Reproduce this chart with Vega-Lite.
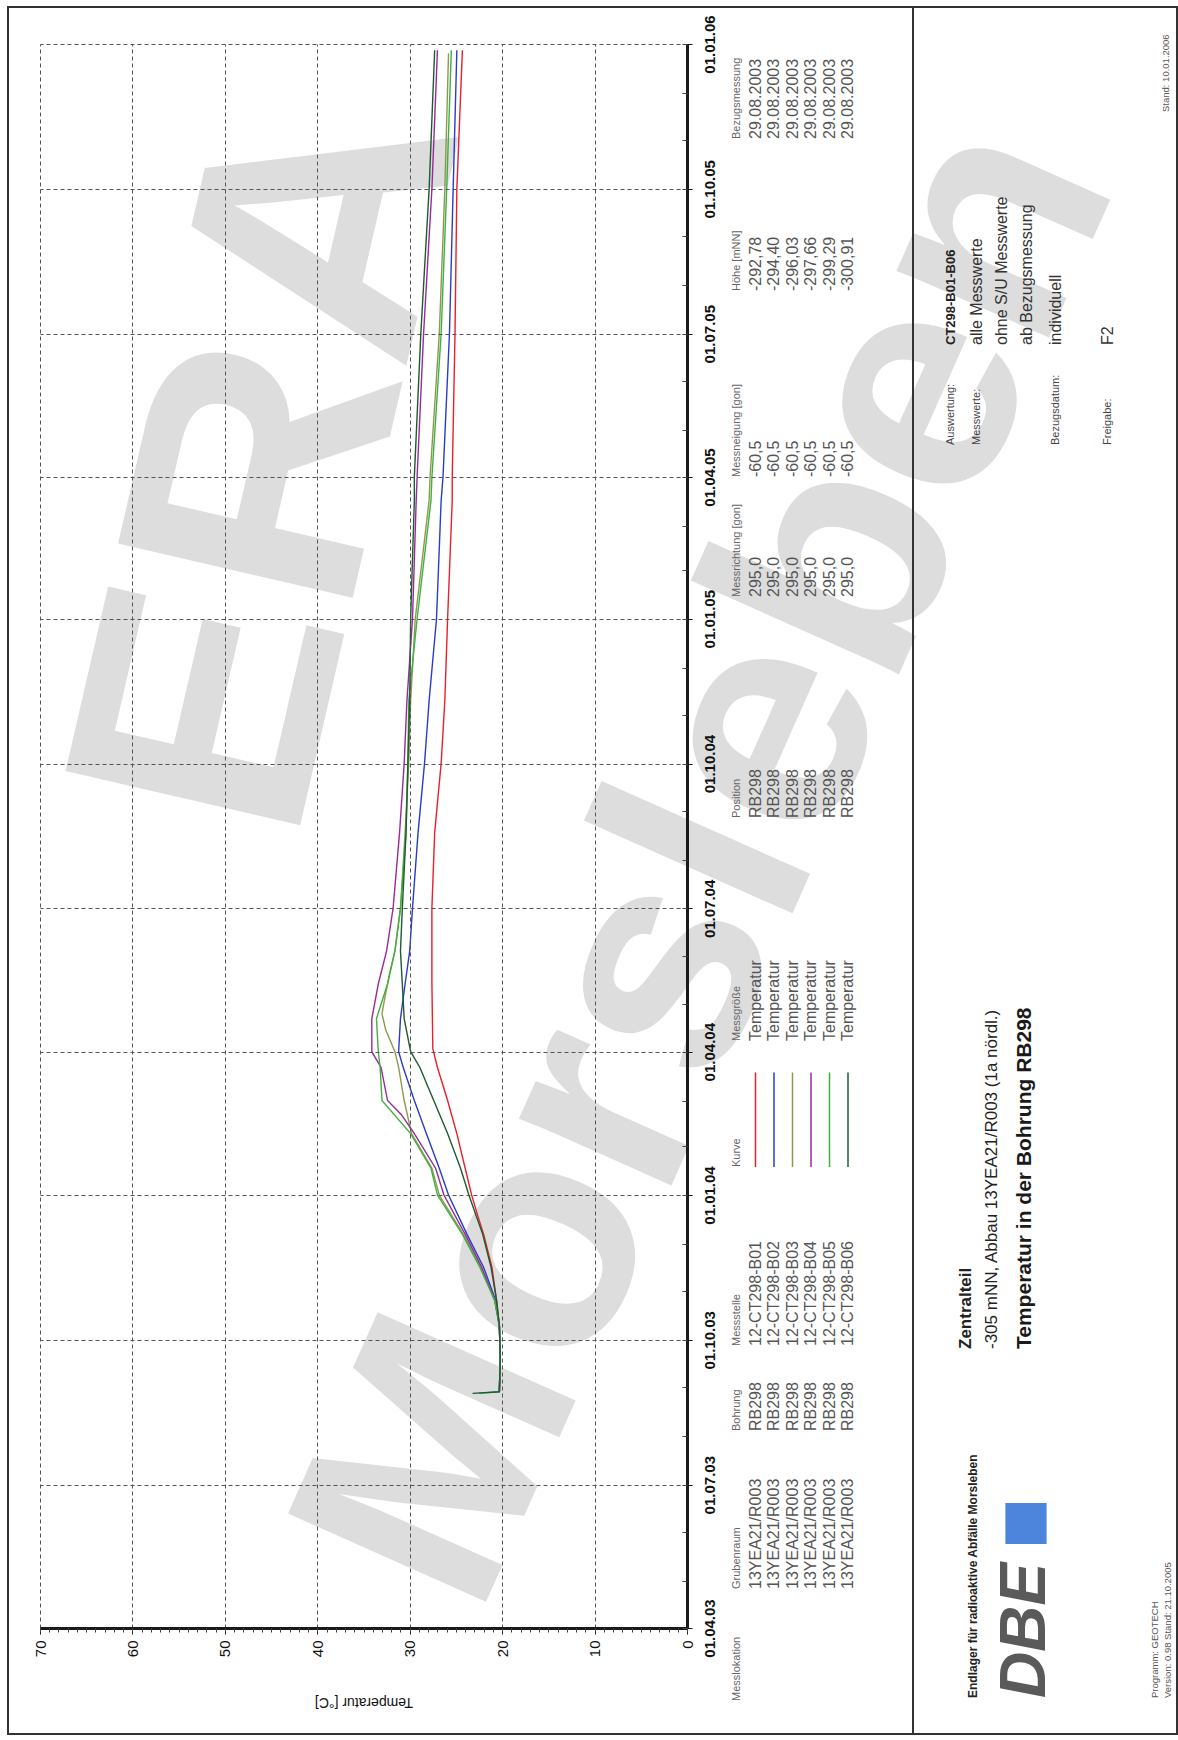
{
  "$schema": "https://vega.github.io/schema/vega-lite/v6.json",
  "background": "white",
  "padding": {"left": 7, "top": 6, "right": 2, "bottom": 7},
  "bounds": "flush",
  "spacing": 0,
  "config": {"font": "Liberation Sans", "view": {"stroke": "#333333", "strokeWidth": 2}},
  "datasets": {
    "curves": [
      {"sensor": "B01", "d": "2003-08-29", "t": 20.3}, {"sensor": "B01", "d": "2003-09-20", "t": 20.2}, {"sensor": "B01", "d": "2003-10-10", "t": 20.3}, {"sensor": "B01", "d": "2003-10-26", "t": 20.6}, {"sensor": "B01", "d": "2003-11-16", "t": 21.1}, {"sensor": "B01", "d": "2003-12-07", "t": 22.0}, {"sensor": "B01", "d": "2003-12-20", "t": 22.7}, {"sensor": "B01", "d": "2004-01-01", "t": 23.3}, {"sensor": "B01", "d": "2004-01-18", "t": 24.0}, {"sensor": "B01", "d": "2004-02-09", "t": 24.9}, {"sensor": "B01", "d": "2004-03-01", "t": 25.9}, {"sensor": "B01", "d": "2004-03-22", "t": 27.0}, {"sensor": "B01", "d": "2004-04-03", "t": 27.5}, {"sensor": "B01", "d": "2004-05-15", "t": 27.6}, {"sensor": "B01", "d": "2004-07-01", "t": 27.6}, {"sensor": "B01", "d": "2004-08-18", "t": 27.3}, {"sensor": "B01", "d": "2004-10-01", "t": 26.6}, {"sensor": "B01", "d": "2004-11-10", "t": 26.2}, {"sensor": "B01", "d": "2005-01-01", "t": 25.9}, {"sensor": "B01", "d": "2005-03-17", "t": 25.4}, {"sensor": "B01", "d": "2005-04-01", "t": 25.4}, {"sensor": "B01", "d": "2005-07-01", "t": 25.1}, {"sensor": "B01", "d": "2005-10-01", "t": 24.9}, {"sensor": "B01", "d": "2005-12-28", "t": 24.3},
      {"sensor": "B02", "d": "2003-08-29", "t": 20.3}, {"sensor": "B02", "d": "2003-09-20", "t": 20.2}, {"sensor": "B02", "d": "2003-10-10", "t": 20.3}, {"sensor": "B02", "d": "2003-10-26", "t": 20.7}, {"sensor": "B02", "d": "2003-11-16", "t": 22.0}, {"sensor": "B02", "d": "2003-12-07", "t": 23.8}, {"sensor": "B02", "d": "2004-01-01", "t": 25.8}, {"sensor": "B02", "d": "2004-01-18", "t": 26.8}, {"sensor": "B02", "d": "2004-02-09", "t": 28.2}, {"sensor": "B02", "d": "2004-03-01", "t": 29.5}, {"sensor": "B02", "d": "2004-03-22", "t": 30.7}, {"sensor": "B02", "d": "2004-04-01", "t": 31.2}, {"sensor": "B02", "d": "2004-04-22", "t": 31.0}, {"sensor": "B02", "d": "2004-05-14", "t": 30.5}, {"sensor": "B02", "d": "2004-06-04", "t": 30.0}, {"sensor": "B02", "d": "2004-07-01", "t": 29.7}, {"sensor": "B02", "d": "2004-08-18", "t": 29.1}, {"sensor": "B02", "d": "2004-10-01", "t": 28.4}, {"sensor": "B02", "d": "2004-11-10", "t": 27.9}, {"sensor": "B02", "d": "2005-01-01", "t": 27.1}, {"sensor": "B02", "d": "2005-03-17", "t": 26.6}, {"sensor": "B02", "d": "2005-04-01", "t": 26.4}, {"sensor": "B02", "d": "2005-07-01", "t": 25.7}, {"sensor": "B02", "d": "2005-10-01", "t": 25.3}, {"sensor": "B02", "d": "2005-12-28", "t": 24.9},
      {"sensor": "B03", "d": "2003-08-29", "t": 20.3}, {"sensor": "B03", "d": "2003-09-20", "t": 20.2}, {"sensor": "B03", "d": "2003-10-10", "t": 20.3}, {"sensor": "B03", "d": "2003-10-26", "t": 20.8}, {"sensor": "B03", "d": "2003-11-16", "t": 22.3}, {"sensor": "B03", "d": "2003-12-07", "t": 24.2}, {"sensor": "B03", "d": "2004-01-01", "t": 26.8}, {"sensor": "B03", "d": "2004-01-18", "t": 27.6}, {"sensor": "B03", "d": "2004-02-09", "t": 29.8}, {"sensor": "B03", "d": "2004-03-01", "t": 30.6}, {"sensor": "B03", "d": "2004-03-22", "t": 31.2}, {"sensor": "B03", "d": "2004-04-01", "t": 31.6}, {"sensor": "B03", "d": "2004-04-15", "t": 32.6}, {"sensor": "B03", "d": "2004-04-25", "t": 33.0}, {"sensor": "B03", "d": "2004-05-05", "t": 32.7}, {"sensor": "B03", "d": "2004-05-20", "t": 32.2}, {"sensor": "B03", "d": "2004-06-04", "t": 31.6}, {"sensor": "B03", "d": "2004-07-01", "t": 31.0}, {"sensor": "B03", "d": "2004-08-18", "t": 30.5}, {"sensor": "B03", "d": "2004-10-01", "t": 30.1}, {"sensor": "B03", "d": "2004-11-10", "t": 29.9}, {"sensor": "B03", "d": "2005-01-01", "t": 29.4}, {"sensor": "B03", "d": "2005-03-17", "t": 27.9}, {"sensor": "B03", "d": "2005-04-01", "t": 27.8}, {"sensor": "B03", "d": "2005-07-01", "t": 26.8}, {"sensor": "B03", "d": "2005-10-01", "t": 26.2}, {"sensor": "B03", "d": "2005-12-26", "t": 25.8},
      {"sensor": "B04", "d": "2003-08-29", "t": 20.3}, {"sensor": "B04", "d": "2003-09-20", "t": 20.2}, {"sensor": "B04", "d": "2003-10-10", "t": 20.3}, {"sensor": "B04", "d": "2003-10-26", "t": 20.8}, {"sensor": "B04", "d": "2003-11-16", "t": 22.2}, {"sensor": "B04", "d": "2003-12-07", "t": 24.0}, {"sensor": "B04", "d": "2004-01-01", "t": 26.3}, {"sensor": "B04", "d": "2004-01-18", "t": 27.2}, {"sensor": "B04", "d": "2004-02-09", "t": 29.5}, {"sensor": "B04", "d": "2004-02-21", "t": 30.9}, {"sensor": "B04", "d": "2004-03-01", "t": 32.4}, {"sensor": "B04", "d": "2004-03-22", "t": 33.1}, {"sensor": "B04", "d": "2004-04-01", "t": 34.1}, {"sensor": "B04", "d": "2004-04-22", "t": 34.1}, {"sensor": "B04", "d": "2004-05-14", "t": 33.4}, {"sensor": "B04", "d": "2004-06-04", "t": 32.5}, {"sensor": "B04", "d": "2004-07-01", "t": 31.8}, {"sensor": "B04", "d": "2004-08-18", "t": 31.1}, {"sensor": "B04", "d": "2004-10-01", "t": 30.6}, {"sensor": "B04", "d": "2004-11-10", "t": 30.3}, {"sensor": "B04", "d": "2005-01-01", "t": 29.7}, {"sensor": "B04", "d": "2005-03-17", "t": 29.3}, {"sensor": "B04", "d": "2005-04-01", "t": 29.2}, {"sensor": "B04", "d": "2005-07-01", "t": 28.5}, {"sensor": "B04", "d": "2005-10-01", "t": 27.6}, {"sensor": "B04", "d": "2005-12-28", "t": 27.0},
      {"sensor": "B05", "d": "2003-08-28", "t": 22.5}, {"sensor": "B05", "d": "2003-08-29", "t": 20.3}, {"sensor": "B05", "d": "2003-09-20", "t": 20.2}, {"sensor": "B05", "d": "2003-10-10", "t": 20.3}, {"sensor": "B05", "d": "2003-10-26", "t": 20.8}, {"sensor": "B05", "d": "2003-11-16", "t": 22.4}, {"sensor": "B05", "d": "2003-12-07", "t": 24.3}, {"sensor": "B05", "d": "2004-01-01", "t": 27.0}, {"sensor": "B05", "d": "2004-01-18", "t": 27.7}, {"sensor": "B05", "d": "2004-02-09", "t": 29.9}, {"sensor": "B05", "d": "2004-03-01", "t": 33.0}, {"sensor": "B05", "d": "2004-03-22", "t": 33.2}, {"sensor": "B05", "d": "2004-04-01", "t": 33.4}, {"sensor": "B05", "d": "2004-04-22", "t": 33.6}, {"sensor": "B05", "d": "2004-05-14", "t": 32.4}, {"sensor": "B05", "d": "2004-06-04", "t": 31.6}, {"sensor": "B05", "d": "2004-07-01", "t": 31.0}, {"sensor": "B05", "d": "2004-08-18", "t": 30.4}, {"sensor": "B05", "d": "2004-10-01", "t": 30.2}, {"sensor": "B05", "d": "2004-11-10", "t": 30.1}, {"sensor": "B05", "d": "2005-01-01", "t": 29.2}, {"sensor": "B05", "d": "2005-03-17", "t": 27.7}, {"sensor": "B05", "d": "2005-04-01", "t": 27.6}, {"sensor": "B05", "d": "2005-07-01", "t": 26.6}, {"sensor": "B05", "d": "2005-10-01", "t": 26.0}, {"sensor": "B05", "d": "2005-12-28", "t": 25.5},
      {"sensor": "B06", "d": "2003-08-28", "t": 23.2}, {"sensor": "B06", "d": "2003-08-29", "t": 20.3}, {"sensor": "B06", "d": "2003-09-20", "t": 20.2}, {"sensor": "B06", "d": "2003-10-10", "t": 20.3}, {"sensor": "B06", "d": "2003-10-26", "t": 20.6}, {"sensor": "B06", "d": "2003-11-16", "t": 21.2}, {"sensor": "B06", "d": "2003-12-07", "t": 22.1}, {"sensor": "B06", "d": "2004-01-01", "t": 23.6}, {"sensor": "B06", "d": "2004-01-18", "t": 24.5}, {"sensor": "B06", "d": "2004-02-09", "t": 25.9}, {"sensor": "B06", "d": "2004-03-01", "t": 27.4}, {"sensor": "B06", "d": "2004-03-22", "t": 28.9}, {"sensor": "B06", "d": "2004-04-01", "t": 29.9}, {"sensor": "B06", "d": "2004-04-22", "t": 30.6}, {"sensor": "B06", "d": "2004-05-14", "t": 30.8}, {"sensor": "B06", "d": "2004-06-04", "t": 31.0}, {"sensor": "B06", "d": "2004-07-01", "t": 30.8}, {"sensor": "B06", "d": "2004-08-18", "t": 30.4}, {"sensor": "B06", "d": "2004-10-01", "t": 30.2}, {"sensor": "B06", "d": "2004-11-10", "t": 30.0}, {"sensor": "B06", "d": "2005-01-01", "t": 29.9}, {"sensor": "B06", "d": "2005-03-17", "t": 29.5}, {"sensor": "B06", "d": "2005-04-01", "t": 29.5}, {"sensor": "B06", "d": "2005-07-01", "t": 28.8}, {"sensor": "B06", "d": "2005-10-01", "t": 27.9}, {"sensor": "B06", "d": "2005-12-28", "t": 27.3}
    ],
    "table": [
      {"sensor": "h", "col": 1, "text": "Messlokation"}, {"sensor": "h", "col": 2, "text": "Grubenraum"}, {"sensor": "h", "col": 3, "text": "Bohrung"}, {"sensor": "h", "col": 4, "text": "Messstelle"}, {"sensor": "h", "col": 5, "text": "Kurve"}, {"sensor": "h", "col": 6, "text": "Messgröße"}, {"sensor": "h", "col": 7, "text": "Position"}, {"sensor": "h", "col": 8, "text": "Messrichtung [gon]"}, {"sensor": "h", "col": 9, "text": "Messneigung [gon]"}, {"sensor": "h", "col": 10, "text": "Höhe [mNN]"}, {"sensor": "h", "col": 11, "text": "Bezugsmessung"},
      {"sensor": "B01", "col": 2, "text": "13YEA21/R003"}, {"sensor": "B01", "col": 3, "text": "RB298"}, {"sensor": "B01", "col": 4, "text": "12-CT298-B01"}, {"sensor": "B01", "col": 6, "text": "Temperatur"}, {"sensor": "B01", "col": 7, "text": "RB298"}, {"sensor": "B01", "col": 8, "text": "295,0"}, {"sensor": "B01", "col": 9, "text": "-60,5"}, {"sensor": "B01", "col": 10, "text": "-292,78"}, {"sensor": "B01", "col": 11, "text": "29.08.2003"},
      {"sensor": "B02", "col": 2, "text": "13YEA21/R003"}, {"sensor": "B02", "col": 3, "text": "RB298"}, {"sensor": "B02", "col": 4, "text": "12-CT298-B02"}, {"sensor": "B02", "col": 6, "text": "Temperatur"}, {"sensor": "B02", "col": 7, "text": "RB298"}, {"sensor": "B02", "col": 8, "text": "295,0"}, {"sensor": "B02", "col": 9, "text": "-60,5"}, {"sensor": "B02", "col": 10, "text": "-294,40"}, {"sensor": "B02", "col": 11, "text": "29.08.2003"},
      {"sensor": "B03", "col": 2, "text": "13YEA21/R003"}, {"sensor": "B03", "col": 3, "text": "RB298"}, {"sensor": "B03", "col": 4, "text": "12-CT298-B03"}, {"sensor": "B03", "col": 6, "text": "Temperatur"}, {"sensor": "B03", "col": 7, "text": "RB298"}, {"sensor": "B03", "col": 8, "text": "295,0"}, {"sensor": "B03", "col": 9, "text": "-60,5"}, {"sensor": "B03", "col": 10, "text": "-296,03"}, {"sensor": "B03", "col": 11, "text": "29.08.2003"},
      {"sensor": "B04", "col": 2, "text": "13YEA21/R003"}, {"sensor": "B04", "col": 3, "text": "RB298"}, {"sensor": "B04", "col": 4, "text": "12-CT298-B04"}, {"sensor": "B04", "col": 6, "text": "Temperatur"}, {"sensor": "B04", "col": 7, "text": "RB298"}, {"sensor": "B04", "col": 8, "text": "295,0"}, {"sensor": "B04", "col": 9, "text": "-60,5"}, {"sensor": "B04", "col": 10, "text": "-297,66"}, {"sensor": "B04", "col": 11, "text": "29.08.2003"},
      {"sensor": "B05", "col": 2, "text": "13YEA21/R003"}, {"sensor": "B05", "col": 3, "text": "RB298"}, {"sensor": "B05", "col": 4, "text": "12-CT298-B05"}, {"sensor": "B05", "col": 6, "text": "Temperatur"}, {"sensor": "B05", "col": 7, "text": "RB298"}, {"sensor": "B05", "col": 8, "text": "295,0"}, {"sensor": "B05", "col": 9, "text": "-60,5"}, {"sensor": "B05", "col": 10, "text": "-299,29"}, {"sensor": "B05", "col": 11, "text": "29.08.2003"},
      {"sensor": "B06", "col": 2, "text": "13YEA21/R003"}, {"sensor": "B06", "col": 3, "text": "RB298"}, {"sensor": "B06", "col": 4, "text": "12-CT298-B06"}, {"sensor": "B06", "col": 6, "text": "Temperatur"}, {"sensor": "B06", "col": 7, "text": "RB298"}, {"sensor": "B06", "col": 8, "text": "295,0"}, {"sensor": "B06", "col": 9, "text": "-60,5"}, {"sensor": "B06", "col": 10, "text": "-300,91"}, {"sensor": "B06", "col": 11, "text": "29.08.2003"}
    ],
    "titleblock": [
      {"text": "Stand: 10.01.2006", "line": 7, "slot": 1, "role": "small"},
      {"text": "Auswertung:", "line": 1, "slot": 3, "role": "label"},
      {"text": "CT298-B01-B06", "line": 1, "slot": 2, "role": "key"},
      {"text": "Messwerte:", "line": 2, "slot": 3, "role": "label"},
      {"text": "alle Messwerte", "line": 2, "slot": 2, "role": "value"},
      {"text": "ohne S/U Messwerte", "line": 3, "slot": 2, "role": "value"},
      {"text": "ab Bezugsmessung", "line": 4, "slot": 2, "role": "value"},
      {"text": "Bezugsdatum:", "line": 5, "slot": 3, "role": "label"},
      {"text": "individuell", "line": 5, "slot": 2, "role": "value"},
      {"text": "Freigabe:", "line": 6, "slot": 3, "role": "label"},
      {"text": "F2", "line": 6, "slot": 2, "role": "value"},
      {"text": "Endlager für radioaktive Abfälle Morsleben", "line": 8, "slot": 5, "role": "org"},
      {"text": "DBE", "line": 9, "slot": 5, "role": "logo"},
      {"text": "Programm: GEOTECH", "line": 10, "slot": 5, "role": "small"},
      {"text": "Version: 0.98   Stand: 21.10.2005", "line": 11, "slot": 5, "role": "small"},
      {"text": "Zentralteil", "line": 12, "slot": 4, "role": "place"},
      {"text": "-305 mNN, Abbau 13YEA21/R003 (1a nördl.)", "line": 13, "slot": 4, "role": "sub"},
      {"text": "Temperatur in der Bohrung RB298", "line": 14, "slot": 4, "role": "title"}
    ]
  },
  "hconcat": [
    {
      "width": 905,
      "height": 1727,
      "resolve": {"scale": {"x": "independent", "y": "independent"}},
      "layer": [
        {
          "resolve": {"axis": {"x": "independent", "y": "independent"}},
          "layer": [
            {
              "data": {"values": [{"word": "ERA"}]},
              "mark": {"type": "text", "angle": 283, "fontSize": 350, "fontWeight": "bold", "color": "#dddddd", "align": "center", "baseline": "middle"},
              "encoding": {
                "text": {"field": "word"},
                "x": {"datum": 44.5, "type": "quantitative",
                  "axis": {"orient": "bottom", "offset": -106, "title": "Temperatur [°C]", "values": [0, 10, 20, 30, 40, 50, 60, 70], "grid": false,
                    "domainColor": "#1a1a1a", "domainWidth": 3, "tickSize": 6, "tickColor": "#1a1a1a",
                    "labelAngle": 270, "labelFontSize": 15, "labelColor": "#111111", "labelPadding": 6, "labelFlush": false, "labelOverlap": false,
                    "titleAngle": 180, "titleBaseline": "bottom", "titleFontSize": 14, "titleFontWeight": "normal", "titleColor": "#111111", "titlePadding": 38, "zindex": 2}},
                "y": {"datum": {"year": 2005, "month": 4, "date": 9, "utc": true}, "type": "temporal", "scale": {"type": "utc"},
                  "axis": {"orient": "right", "offset": -226, "title": null, "format": "%d.%m.%y", "tickCount": {"interval": "month", "step": 3}, "grid": false,
                    "domainColor": "#1a1a1a", "domainWidth": 3, "tickSize": 5, "tickColor": "#1a1a1a",
                    "labelAngle": 270, "labelAlign": "center", "labelBaseline": "top", "labelFontSize": 15, "labelFontWeight": "bold", "labelColor": "#111111", "labelPadding": 10, "labelFlush": false, "labelOverlap": false, "zindex": 2}}
              }
            },
            {
              "data": {"values": [{"word": "Morsleben"}]},
              "mark": {"type": "text", "angle": 294, "fontSize": 315, "fontWeight": "bold", "color": "#dddddd", "align": "center", "baseline": "middle"},
              "encoding": {
                "text": {"field": "word"},
                "x": {"datum": -2.6, "type": "quantitative",
                  "axis": {"orient": "bottom", "offset": -106, "title": null, "values": [0, 1, 2, 3, 4, 5, 6, 7, 8, 9, 10, 11, 12, 13, 14, 15, 16, 17, 18, 19, 20, 21, 22, 23, 24, 25, 26, 27, 28, 29, 30, 31, 32, 33, 34, 35, 36, 37, 38, 39, 40, 41, 42, 43, 44, 45, 46, 47, 48, 49, 50, 51, 52, 53, 54, 55, 56, 57, 58, 59, 60, 61, 62, 63, 64, 65, 66, 67, 68, 69, 70],
                    "labels": false, "domain": false, "grid": false, "tickSize": 4, "tickColor": "#444444", "zindex": 2}},
                "y": {"datum": {"year": 2004, "month": 7, "date": 30, "utc": true}, "type": "temporal", "scale": {"type": "utc"},
                  "axis": {"orient": "right", "offset": -226, "title": null, "tickCount": {"interval": "month", "step": 1}, "labels": false, "domain": false, "grid": false, "tickSize": -5, "tickColor": "#444444", "zindex": 2}}
              }
            },
            {
              "data": {"name": "curves"},
              "mark": {"type": "line", "strokeWidth": 1.4},
              "encoding": {
                "x": {"field": "t", "type": "quantitative",
                  "scale": {"domain": [0, 70], "range": [679, 32], "nice": false, "zero": false},
                  "axis": {"orient": "top", "grid": true, "gridColor": "#555555", "gridDash": [4, 3], "gridWidth": 1, "domain": false, "ticks": false, "labels": false, "title": null, "values": [0, 10, 20, 30, 40, 50, 60, 70], "zindex": 1}},
                "y": {"field": "d", "type": "temporal",
                  "scale": {"type": "utc", "domain": [{"year": 2003, "month": 4, "date": 1, "utc": true}, {"year": 2006, "month": 1, "date": 1, "utc": true}], "range": [1621, 37], "nice": false},
                  "axis": {"orient": "left", "grid": true, "gridColor": "#555555", "gridDash": [4, 3], "gridWidth": 1, "domain": false, "ticks": false, "labels": false, "title": null, "tickCount": {"interval": "month", "step": 3}, "zindex": 1}},
                "color": {"field": "sensor", "type": "nominal",
                  "scale": {"domain": ["B01", "B02", "B03", "B04", "B05", "B06"], "range": ["#e8202a", "#2a3cc8", "#8c9a50", "#9a2a9a", "#40b040", "#1e5a32"]},
                  "legend": null},
                "order": {"field": "d", "type": "temporal"}
              }
            }
          ]
        },
        {
          "data": {"name": "table"},
          "layer": [
            {
              "transform": [{"filter": "datum.sensor === 'h'"}],
              "mark": {"type": "text", "angle": 270, "align": "left", "baseline": "middle", "fontSize": 11, "color": "#666666"},
              "encoding": {
                "x": {"field": "sensor", "type": "nominal", "scale": {"type": "point", "domain": ["h", "B01", "B02", "B03", "B04", "B05", "B06"], "range": [729, 840], "padding": 0}, "axis": null},
                "y": {"field": "col", "type": "quantitative", "scale": {"domain": [1, 2, 3, 4, 5, 6, 7, 8, 9, 10, 11], "range": [1694, 1582, 1424, 1339, 1160, 1034, 811, 590, 470, 284, 132], "nice": false, "zero": false}, "axis": null},
                "text": {"field": "text"}
              }
            },
            {
              "transform": [{"filter": "datum.sensor !== 'h'"}],
              "mark": {"type": "text", "angle": 270, "align": "left", "baseline": "middle", "fontSize": 16, "color": "#555555"},
              "encoding": {
                "x": {"field": "sensor", "type": "nominal", "axis": null},
                "y": {"field": "col", "type": "quantitative", "axis": null},
                "text": {"field": "text"}
              }
            },
            {
              "transform": [{"filter": "datum.sensor !== 'h' && datum.col === 6"}],
              "mark": {"type": "rule", "strokeWidth": 1.5},
              "encoding": {
                "x": {"field": "sensor", "type": "nominal", "axis": null},
                "y": {"datum": 5, "type": "quantitative", "axis": null},
                "y2": {"datum": 5.75},
                "color": {"field": "sensor", "type": "nominal", "legend": null}
              }
            }
          ]
        }
      ]
    },
    {
      "width": 264,
      "height": 1727,
      "data": {"name": "titleblock"},
      "encoding": {
        "x": {"field": "line", "type": "quantitative", "scale": {"domain": [1, 2, 3, 4, 5, 6, 7, 8, 9, 10, 11, 12, 13, 14], "range": [38, 64, 89, 114, 143, 195, 253, 60, 113, 242, 255, 53, 79, 112], "nice": false, "zero": false}, "axis": null},
        "y": {"field": "slot", "type": "quantitative", "scale": {"domain": [1, 2, 3, 4, 5], "range": [105, 338, 438, 1342, 1691], "nice": false, "zero": false}, "axis": null},
        "text": {"field": "text"}
      },
      "layer": [
        {"transform": [{"filter": "datum.role === 'label'"}], "mark": {"type": "text", "angle": 270, "align": "left", "baseline": "middle", "fontSize": 11, "color": "#444444"}},
        {"transform": [{"filter": "datum.role === 'small'"}], "mark": {"type": "text", "angle": 270, "align": "left", "baseline": "middle", "fontSize": 9.5, "color": "#555555"}},
        {"transform": [{"filter": "datum.role === 'value'"}], "mark": {"type": "text", "angle": 270, "align": "left", "baseline": "middle", "fontSize": 16, "color": "#333333"}},
        {"transform": [{"filter": "datum.role === 'key'"}], "mark": {"type": "text", "angle": 270, "align": "left", "baseline": "middle", "fontSize": 13, "fontWeight": "bold", "color": "#222222"}},
        {"transform": [{"filter": "datum.role === 'org'"}], "mark": {"type": "text", "angle": 270, "align": "left", "baseline": "middle", "fontSize": 12, "fontWeight": "bold", "color": "#222222"}},
        {"transform": [{"filter": "datum.role === 'place'"}], "mark": {"type": "text", "angle": 270, "align": "left", "baseline": "middle", "fontSize": 17, "fontWeight": "bold", "color": "#222222"}},
        {"transform": [{"filter": "datum.role === 'sub'"}], "mark": {"type": "text", "angle": 270, "align": "left", "baseline": "middle", "fontSize": 17, "color": "#222222"}},
        {"transform": [{"filter": "datum.role === 'title'"}], "mark": {"type": "text", "angle": 270, "align": "left", "baseline": "middle", "fontSize": 21, "fontWeight": "bold", "color": "#1a1a1a"}},
        {"transform": [{"filter": "datum.role === 'logo'"}], "mark": {"type": "text", "angle": 270, "align": "left", "baseline": "middle", "fontSize": 64, "fontWeight": "bold", "fontStyle": "italic", "color": "#5a5a5a"}},
        {"transform": [{"filter": "datum.role === 'logo'"}], "mark": {"type": "square", "filled": true, "size": 1700, "color": "#3a78d8", "opacity": 0.9}, "encoding": {"y": {"datum": 4.5, "type": "quantitative"}}}
      ]
    }
  ]
}
